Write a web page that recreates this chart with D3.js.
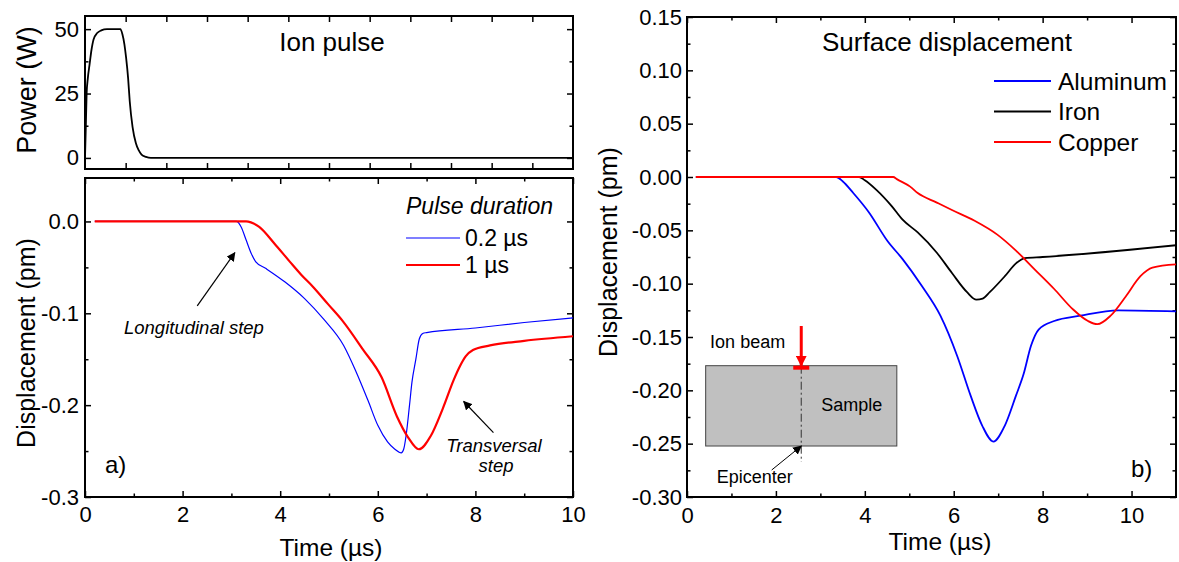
<!DOCTYPE html>
<html>
<head>
<meta charset="utf-8">
<script src="https://cdn.jsdelivr.net/npm/d3@7"></script>
<style>
  body { margin: 0; background: #fff; }
  text { font-family: "Liberation Sans", Arial, sans-serif; }
</style>
</head>
<body>
<script>
/* ---- a) ion pulse (top left) ---- */
var pulseT = [0, 0.02, 0.04, 0.07, 0.11, 0.16, 0.21, 0.3, 0.4, 0.54, 0.87, 0.92, 0.97, 1.01, 1.06, 1.10, 1.17, 1.25, 1.32, 1.39, 1.5, 1.62, 12];
var pulseP = [0, 12, 25, 31, 36, 42, 46, 48.5, 49.5, 50, 50, 48, 44, 39, 31, 22, 12, 5.8, 3, 1.3, 0.4, 0, 0];

/* ---- a) displacement for two pulse durations ---- */
var shortT = [0.2, 3.1, 3.2, 3.3, 3.4, 3.5, 3.7, 4.1, 4.5, 4.9, 5.3, 5.55, 5.8, 6.0, 6.2, 6.35, 6.48, 6.53, 6.58, 6.65, 6.7, 6.78, 6.85, 6.92, 7.0, 8, 9, 10];
var shortD = [0, 0, -0.006, -0.02, -0.034, -0.044, -0.051, -0.066, -0.084, -0.107, -0.135, -0.163, -0.195, -0.222, -0.24, -0.248, -0.252, -0.248, -0.233, -0.2, -0.175, -0.15, -0.128, -0.122, -0.121, -0.116, -0.11, -0.105];
var longT = [0.2, 3.3, 3.4, 3.57, 3.88, 4.2, 4.43, 4.67, 4.98, 5.29, 5.69, 6.08, 6.39, 6.62, 6.84, 7.09, 7.33, 7.56, 7.68, 7.8, 7.95, 8.3, 9, 10];
var longD = [0, 0, -0.001, -0.006, -0.024, -0.044, -0.058, -0.071, -0.09, -0.109, -0.139, -0.17, -0.212, -0.235, -0.248, -0.233, -0.204, -0.172, -0.158, -0.147, -0.14, -0.135, -0.13, -0.125];
var pulseNames = ['0.2 \u00b5s', '1 \u00b5s'];

/* ---- b) surface displacement for three metals ---- */
var metals = ['Aluminum', 'Iron', 'Copper'];
var alT = [0.2, 3.36, 3.5, 3.74, 4.09, 4.51, 4.85, 5.28, 5.7, 6.08, 6.38, 6.64, 6.89, 7.15, 7.4, 7.57, 7.74, 7.91, 8.26, 8.85, 9.7, 11];
var alD = [0, 0, -0.004, -0.015, -0.033, -0.06, -0.077, -0.102, -0.13, -0.168, -0.205, -0.233, -0.248, -0.233, -0.205, -0.185, -0.158, -0.143, -0.135, -0.13, -0.125, -0.126];
var feT = [0.2, 3.87, 4.0, 4.26, 4.6, 4.85, 5.19, 5.62, 5.96, 6.3, 6.51, 6.65, 6.81, 7.15, 7.4, 7.6, 8, 11];
var feD = [0, 0, -0.003, -0.012, -0.027, -0.04, -0.052, -0.071, -0.09, -0.108, -0.115, -0.114, -0.108, -0.093, -0.081, -0.076, -0.075, -0.064];
var cuT = [0.2, 4.64, 4.72, 5.02, 5.19, 5.62, 5.96, 6.47, 6.98, 7.4, 7.83, 8.26, 8.68, 9.02, 9.23, 9.53, 9.87, 10.2, 10.47, 11];
var cuD = [0, 0, -0.002, -0.009, -0.015, -0.024, -0.031, -0.041, -0.054, -0.069, -0.087, -0.105, -0.124, -0.135, -0.138, -0.13, -0.112, -0.093, -0.085, -0.082];

var zip = function(a, b) { return a.map(function(v, i) { return [v, b[i]]; }); };
var hyph = function(f) { return function(d) { return d3.format(f)(d).replace('\u2212', '-'); }; };

var svg = d3.select('body').append('svg')
  .attr('width', 1179)
  .attr('height', 562)
  .style('background', '#fff');

svg.append('defs').selectAll('marker')
  .data([['arrK', 'black', 9], ['arrR', 'red', 11]])
  .enter().append('marker')
  .attr('id', function(d) { return d[0]; })
  .attr('viewBox', '0 0 10 10').attr('refX', 9).attr('refY', 5)
  .attr('markerUnits', 'userSpaceOnUse')
  .attr('markerWidth', function(d) { return d[2]; })
  .attr('markerHeight', function(d) { return d[2]; })
  .attr('orient', 'auto')
  .append('path').attr('d', 'M0,0L10,5L0,10z').attr('fill', function(d) { return d[1]; });

// scales
var xP = d3.scaleLinear().domain([0, 12]).range([85, 573]);
var yP = d3.scaleLinear().domain([-4.3, 55.1]).range([169, 16]);
var xL = d3.scaleLinear().domain([0, 10]).range([85, 573]);
var yL = d3.scaleLinear().domain([-0.3, 0.0473]).range([497, 178]);
var xR = d3.scaleLinear().domain([0, 11]).range([687, 1176]);
var yR = d3.scaleLinear().domain([-0.3, 0.15]).range([497, 17]);

// boxed plot with inward ticks on all four sides
function frame(x, y, o) {
  var g = svg.append('g');
  var x0 = x.range()[0], x1 = x.range()[1], yt = y.range()[1], yb = y.range()[0];
  function ax(axis, tr, vals, size, fmt, pad) {
    var a = g.append('g').attr('transform', tr)
      .call(axis.tickValues(vals).tickSize(size).tickSizeOuter(0)
        .tickPadding(pad || 0).tickFormat(fmt || ''));
    a.select('.domain').remove();
    a.selectAll('line').attr('stroke-width', 1.5);
    a.attr('font-size', 22).attr('font-family', '"Liberation Sans", Arial, sans-serif');
    return a;
  }
  ax(d3.axisBottom(x), 'translate(0,' + yb + ')', o.xMaj, -6, o.xFmt, o.xPad);
  ax(d3.axisTop(x), 'translate(0,' + yt + ')', o.xMaj, -6);
  ax(d3.axisBottom(x), 'translate(0,' + yb + ')', o.xMin, -3.5);
  ax(d3.axisTop(x), 'translate(0,' + yt + ')', o.xMin, -3.5);
  ax(d3.axisLeft(y), 'translate(' + x0 + ',0)', o.yMaj, -6, o.yFmt, o.yPad);
  ax(d3.axisRight(y), 'translate(' + x1 + ',0)', o.yMaj, -6);
  ax(d3.axisLeft(y), 'translate(' + x0 + ',0)', o.yMin, -3.5);
  ax(d3.axisRight(y), 'translate(' + x1 + ',0)', o.yMin, -3.5);
  g.append('rect')
    .attr('x', x0).attr('y', yt).attr('width', x1 - x0).attr('height', yb - yt)
    .attr('fill', 'none').attr('stroke', 'black').attr('stroke-width', 2);
  return g;
}

function curve(x, y, pts, color, w) {
  svg.append('path')
    .datum(pts)
    .attr('d', d3.line().x(function(d) { return x(d[0]); }).y(function(d) { return y(d[1]); })
      .curve(d3.curveMonotoneX))
    .attr('fill', 'none').attr('stroke', color).attr('stroke-width', w)
    .attr('stroke-linejoin', 'round');
}

function label(x, y, str, size, opts) {
  opts = opts || {};
  var t = svg.append('text').attr('x', x).attr('y', y).text(str)
    .attr('font-size', size).attr('fill', 'black')
    .attr('text-anchor', opts.anchor || 'start');
  if (opts.italic) t.attr('font-style', 'italic');
  if (opts.rot) t.attr('transform', 'rotate(-90,' + x + ',' + y + ')');
  return t;
}

function arrow(x, y, a, b, marker, color, w) {
  svg.append('line')
    .attr('x1', x(a[0])).attr('y1', y(a[1])).attr('x2', x(b[0])).attr('y2', y(b[1]))
    .attr('stroke', color || 'black').attr('stroke-width', w || 1.2)
    .attr('marker-end', 'url(#' + (marker || 'arrK') + ')');
}

/* ---------- top-left: ion pulse ---------- */
frame(xP, yP, {
  xMaj: d3.range(1, 12), xMin: [], yMaj: [0, 25, 50], yMin: [12.5, 37.5],
  xFmt: '', yFmt: d3.format('d'), yPad: 6
});
curve(xP, yP, zip(pulseT, pulseP), 'black', 1.8);
label(332, 51, 'Ion pulse', 26, { anchor: 'middle' });
label(36, 90, 'Power (W)', 27, { anchor: 'middle', rot: true });

/* ---------- bottom-left: pulse duration ---------- */
frame(xL, yL, {
  xMaj: [0, 2, 4, 6, 8, 10], xMin: [1, 3, 5, 7, 9],
  yMaj: [-0.3, -0.2, -0.1, 0], yMin: [-0.25, -0.15, -0.05],
  xFmt: d3.format('d'), xPad: 9, yFmt: hyph('.1f'), yPad: 6
});
curve(xL, yL, zip(shortT, shortD), 'blue', 1.2);
curve(xL, yL, zip(longT, longD), 'red', 2.2);
label(35, 343, 'Displacement (pm)', 25, { anchor: 'middle', rot: true });
label(331, 556, 'Time (\u00b5s)', 24.5, { anchor: 'middle' });
label(105, 473, 'a)', 24);

// legend
label(406, 214, 'Pulse duration', 23, { italic: true });
[['blue', 1.2, 238], ['red', 2.2, 265]].forEach(function(s, i) {
  svg.append('line').attr('x1', 406).attr('x2', 460).attr('y1', s[2]).attr('y2', s[2])
    .attr('stroke', s[0]).attr('stroke-width', s[1]);
  label(465, s[2] + 8, pulseNames[i], 23);
});

// annotations
label(124, 334, 'Longitudinal step', 18.5, { italic: true });
arrow(xL, yL, [2.3, -0.092], [3.07, -0.034]);
label(494, 452, 'Transversal', 18.5, { italic: true, anchor: 'middle' });
label(496, 472, 'step', 18.5, { italic: true, anchor: 'middle' });
arrow(xL, yL, [8.37, -0.230], [7.76, -0.196]);

/* ---------- right: surface displacement ---------- */
frame(xR, yR, {
  xMaj: [0, 2, 4, 6, 8, 10], xMin: [1, 3, 5, 7, 9],
  yMaj: d3.range(-0.3, 0.151, 0.05).map(function(v) { return Math.round(v * 100) / 100; }),
  yMin: d3.range(-0.275, 0.15, 0.05).map(function(v) { return Math.round(v * 1000) / 1000; }),
  xFmt: d3.format('d'), xPad: 10, yFmt: hyph('.2f'), yPad: 5
});

// inset sketch of the sample
svg.append('rect')
  .attr('x', xR(0.42)).attr('y', yR(-0.1769))
  .attr('width', xR(4.72) - xR(0.42)).attr('height', yR(-0.2522) - yR(-0.1769))
  .attr('fill', '#c0c0c0').attr('stroke', '#444').attr('stroke-width', 1);
svg.append('line')
  .attr('x1', xR(2.57)).attr('x2', xR(2.57)).attr('y1', yR(-0.1769)).attr('y2', yR(-0.2672))
  .attr('stroke', '#333').attr('stroke-width', 1).attr('stroke-dasharray', '8,3,2,3');
svg.append('rect')
  .attr('x', xR(2.39)).attr('y', yR(-0.1769))
  .attr('width', xR(2.75) - xR(2.39)).attr('height', 4)
  .attr('fill', 'red');
arrow(xR, yR, [2.57, -0.1397], [2.57, -0.1769], 'arrR', 'red', 3);
label(xR(0.52), yR(-0.1606), 'Ion beam', 18);
label(xR(3.02), yR(-0.2191), 'Sample', 18);
label(xR(0.67), yR(-0.2871), 'Epicenter', 18);
arrow(xR, yR, [1.905, -0.2747], [2.57, -0.2522], 'arrK', 'black', 1);

curve(xR, yR, zip(alT, alD), 'blue', 1.8);
curve(xR, yR, zip(feT, feD), 'black', 1.8);
curve(xR, yR, zip(cuT, cuD), 'red', 1.8);

label(947, 51, 'Surface displacement', 26, { anchor: 'middle' });
label(617, 252, 'Displacement (pm)', 25, { anchor: 'middle', rot: true });
label(940, 550, 'Time (\u00b5s)', 24.5, { anchor: 'middle' });
label(1131, 477, 'b)', 24);

var legColors = ['blue', 'black', 'red'];
metals.forEach(function(m, i) {
  var yy = 81 + i * 30.5;
  svg.append('line').attr('x1', 994).attr('x2', 1051).attr('y1', yy).attr('y2', yy)
    .attr('stroke', legColors[i]).attr('stroke-width', 1.8);
  label(1058, yy + 8.5, m, 24.5);
});
</script>
</body>
</html>
